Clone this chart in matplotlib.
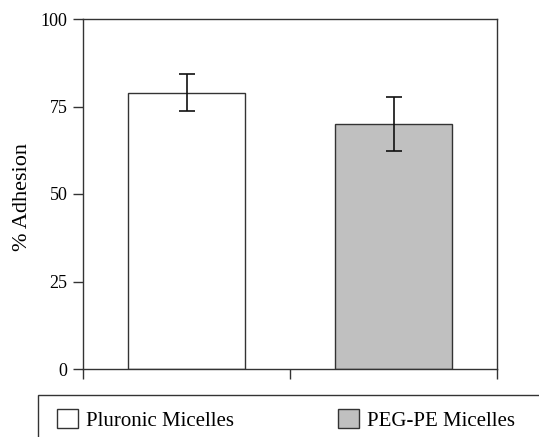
import matplotlib
matplotlib.use("Agg")
import matplotlib.pyplot as plt
from matplotlib.patches import Rectangle

# data
groups = ["Pluronic Micelles", "PEG-PE Micelles"]
adhesion = [79.0, 70.0]
err_low = [5.2, 7.7]
err_high = [5.2, 7.6]
fills = ["white", "#c0c0c0"]

plt.rcParams["font.family"] = ["Liberation Serif", "DejaVu Serif"]
plt.rcParams["font.size"] = 13

fig = plt.figure(figsize=(5.39, 4.37), dpi=100)
ax = fig.add_axes([83 / 539, 1 - 369 / 437, (497 - 83) / 539, (369 - 19) / 437])

xpos = [0.5, 1.5]
bars = ax.bar(xpos, adhesion, width=0.565, color=fills, edgecolor="#333333",
              linewidth=1.0, zorder=2)
ax.errorbar(xpos, adhesion, yerr=[err_low, err_high], fmt="none",
            ecolor="#111111", elinewidth=1.2, capsize=5.5, capthick=1.2, zorder=3)

ax.set_xlim(0, 2)
ax.set_ylim(0, 100)
ax.set_xticks([0, 1, 2])
ax.set_xticklabels([])
ax.set_yticks([0, 25, 50, 75, 100])
ax.tick_params(axis="x", direction="out", length=7, width=1, color="#333333")
ax.tick_params(axis="y", direction="out", length=7, width=1, color="#333333", pad=4)
for s in ax.spines.values():
    s.set_color("#333333")
    s.set_linewidth(1.0)
ax.set_ylabel("% Adhesion", fontsize=16)
ax.yaxis.set_label_coords(-0.124, 0.49)

# legend frame, open at the bottom / right like the reference crop
fig.patches.append(Rectangle((38 / 539, -0.2), 1.2, 0.2 + 1 - 395 / 437,
                             transform=fig.transFigure, fill=False,
                             edgecolor="#333333", linewidth=1.0))
fig.legend(handles=list(bars), labels=groups, loc="center left",
           bbox_to_anchor=(57 / 539, 1 - 420 / 437), ncol=2, frameon=False,
           handlelength=1.0, handleheight=1.0, handletextpad=0.38,
           columnspacing=5.0, fontsize=15, borderpad=0, borderaxespad=0)

fig.savefig("out.png", dpi=100)
